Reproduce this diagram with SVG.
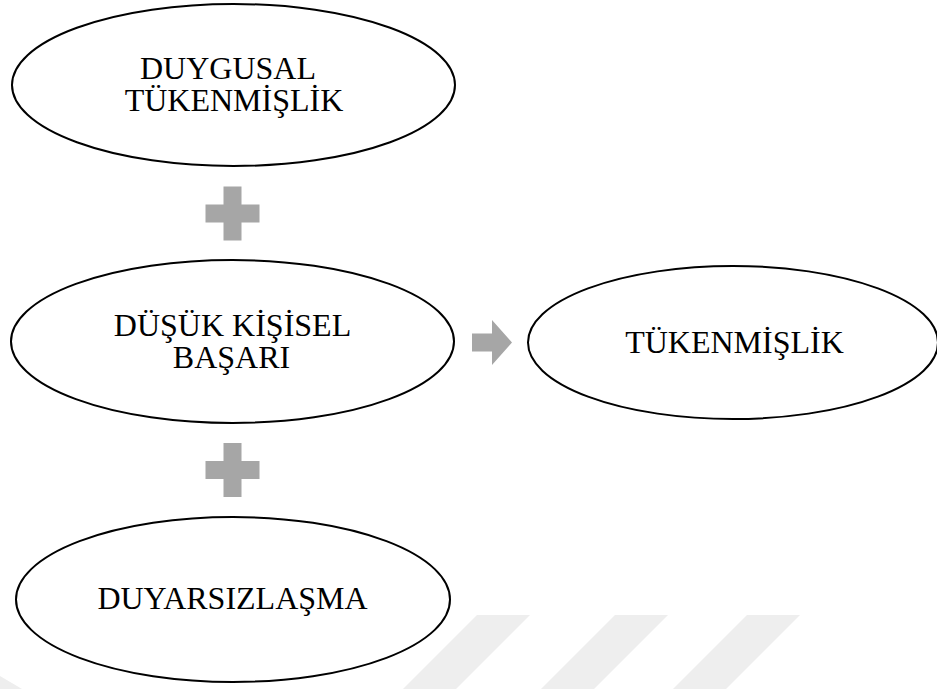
<svg xmlns="http://www.w3.org/2000/svg" width="937" height="689" viewBox="0 0 937 689">
<style>
.bg{fill:#ffffff}
.wm{fill:#eeeeee}
.node{fill:none;stroke:#000000;stroke-width:2}
.lbl{font-family:"Liberation Serif","Times New Roman",serif;font-size:32px;fill:#000000;text-anchor:middle}
.op{fill:#a6a6a6}
</style>
<defs>
<path id="plus" d="M-9,-27 H9 V-9 H27 V9 H9 V27 H-9 V9 H-27 V-9 H-9 Z"/>
</defs>
<rect class="bg" x="0" y="0" width="937" height="689"/>
<g id="watermark">
<polygon class="wm" points="477,615 530,615 456,689 403,689"/>
<polygon class="wm" points="615,615 668,615 594,689 541,689"/>
<polygon class="wm" points="747,615 800,615 726,689 673,689"/>
<polygon class="wm" points="0,676 22,689 0,689"/>
</g>
<g id="connectors">
<use href="#plus" class="op" x="232.5" y="213.5"/>
<use href="#plus" class="op" x="232.5" y="470"/>
<path class="op" d="M472,333.5 H492 V320 L512,342.5 L492,365 V351.5 H472 Z"/>
</g>
<g id="node-duygusal">
<ellipse class="node" cx="233.5" cy="85" rx="221.5" ry="81"/>
<text class="lbl" x="228" y="79">DUYGUSAL</text>
<text class="lbl" x="234" y="111">TÜKENMİŞLİK</text>
</g>
<g id="node-basari">
<ellipse class="node" cx="232.5" cy="341.5" rx="221.5" ry="81.5"/>
<text class="lbl" x="232.5" y="335.5">DÜŞÜK KİŞİSEL</text>
<text class="lbl" x="231.5" y="368">BAŞARI</text>
</g>
<g id="node-tukenmislik">
<ellipse class="node" cx="733" cy="342.5" rx="205" ry="76.5"/>
<text class="lbl" x="734.5" y="353">TÜKENMİŞLİK</text>
</g>
<g id="node-duyarsizlasma">
<ellipse class="node" cx="233" cy="599.5" rx="217" ry="82.5"/>
<text class="lbl" x="232.5" y="609">DUYARSIZLAŞMA</text>
</g>
</svg>
